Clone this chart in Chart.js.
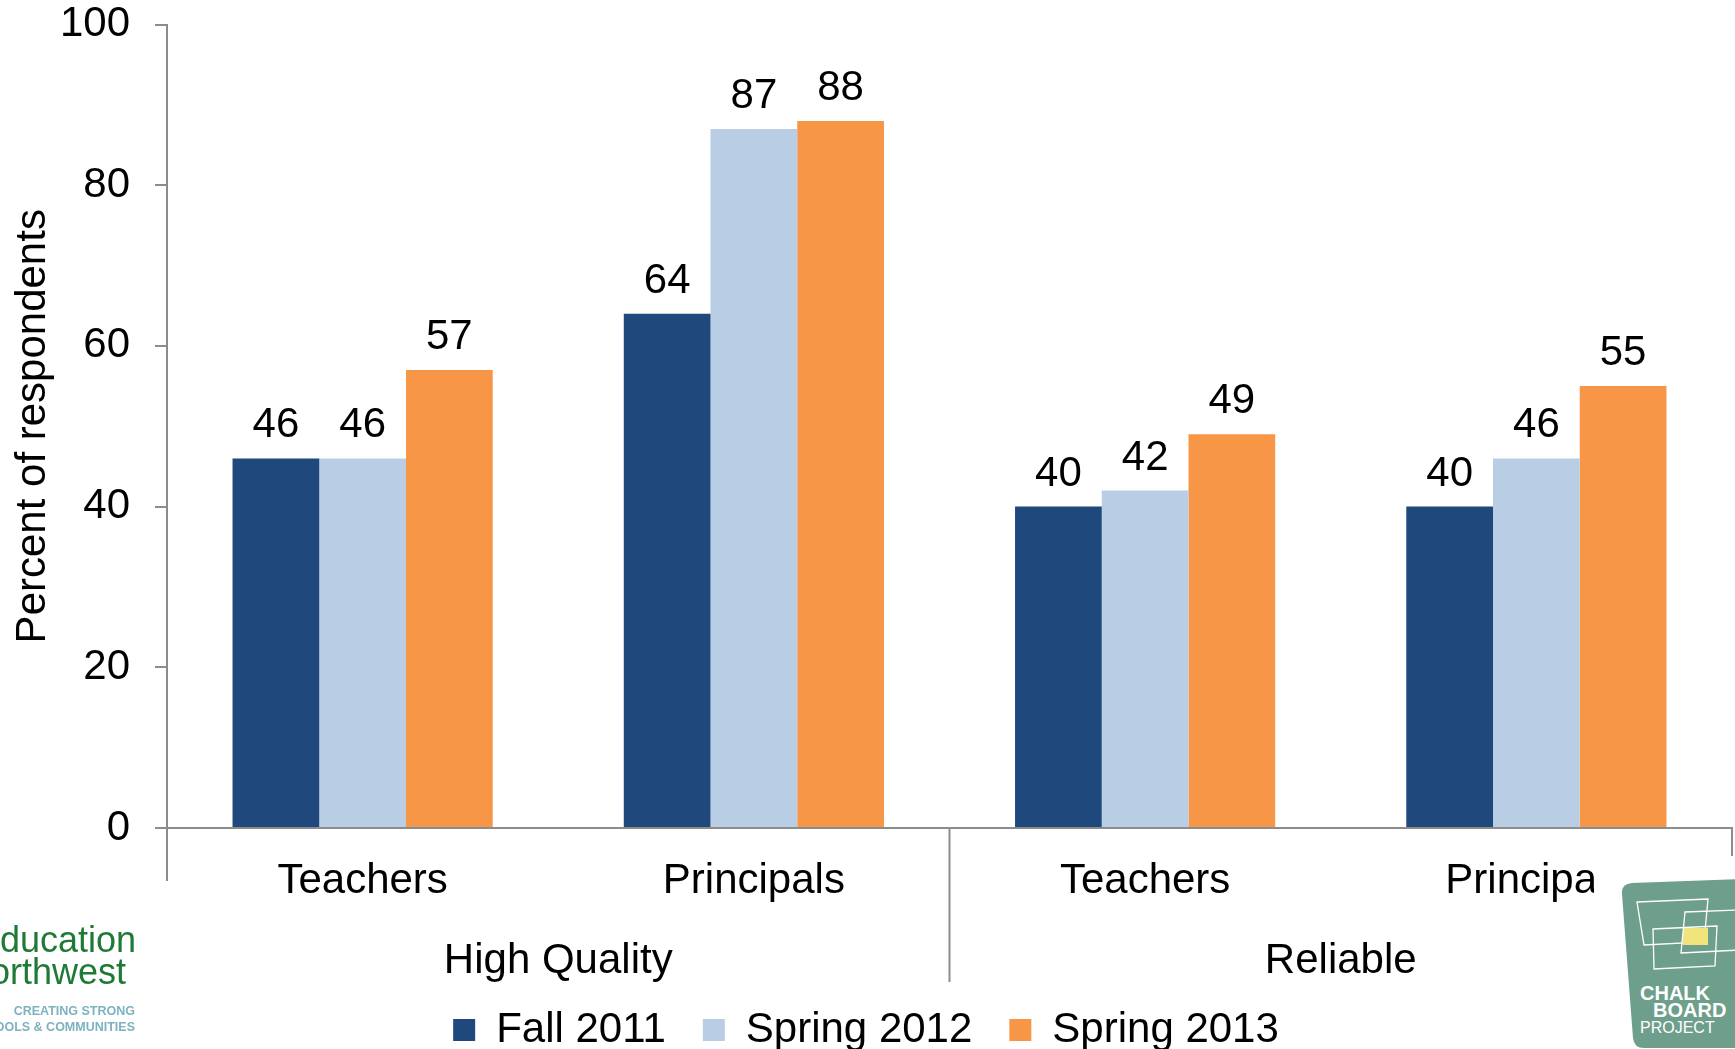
<!DOCTYPE html>
<html lang="en">
<head>
  <meta charset="UTF-8">
  <title>Percent of respondents</title>
  <script src="https://cdn.jsdelivr.net/npm/chart.js"></script>
  <style>
    html, body { margin: 0; padding: 0; background: #fff; }
    #wrap { position: relative; width: 1735px; height: 1049px; overflow: hidden; }
    #chart { position: absolute; left: 0; top: 0; }
    .logo-en { position: absolute; left: 0; top: 900px; width: 170px; height: 149px; overflow: hidden; font-family: "Liberation Sans", Arial, sans-serif; }
    .logo-en div { position: absolute; white-space: nowrap; text-align: right; }
    .logo-en .big { color: #1f7a36; font-size: 36px; line-height: 36px; }
    .logo-en .tag { color: #7db2c1; font-size: 12.5px; font-weight: bold; line-height: 14px; }
    .logo-cb { position: absolute; left: 1594px; top: 857px; width: 141px; height: 192px; background: #fff; }
  </style>
</head>
<body>
<div id="wrap">
  <canvas id="chart" width="1735" height="1049"></canvas>

  <div class="logo-en">
    <div class="big" style="right:34px; top:22px;">education</div>
    <div class="big" style="right:44px; top:54px;">northwest</div>
    <div class="tag" style="right:35px; top:104px;">CREATING STRONG</div>
    <div class="tag" style="right:35px; top:120px;">SCHOOLS &amp; COMMUNITIES</div>
  </div>

  <div class="logo-cb">
    <svg width="141" height="192" viewBox="1594 857 141 192">
      <path d="M1632,883 L1740,879 Q1744,879 1744,890 L1744,1040 Q1744,1048 1736,1048 L1644,1048 Q1634,1048 1633,1038 L1622,894 Q1621,884 1632,883 Z" fill="#6e9f8c"/>
      <polygon points="1637,902 1708,899 1704,942 1644,945" fill="none" stroke="#fff" stroke-width="1.3"/>
      <rect x="1683" y="928" width="25" height="17" fill="#f2e47c"/>
      <polygon points="1685,912 1740,910 1740,950 1681,953" fill="none" stroke="#fff" stroke-width="1.3"/>
      <polygon points="1653,929 1717,926 1715,966 1654,969" fill="none" stroke="#fff" stroke-width="1.3"/>
      <text x="1640" y="1000" fill="#fff" font-family="Liberation Sans, Arial, sans-serif" font-weight="bold" font-size="20">CHALK</text>
      <text x="1653" y="1017" fill="#fff" font-family="Liberation Sans, Arial, sans-serif" font-weight="bold" font-size="20">BOARD</text>
      <text x="1640" y="1033" fill="#fff" font-family="Liberation Sans, Arial, sans-serif" font-size="16">PROJECT</text>
    </svg>
  </div>
</div>

<script>
  // survey results, percent of respondents
  const categories = ['Teachers', 'Principals', 'Teachers', 'Principals'];
  const groups = ['High Quality', 'Reliable'];
  const fall2011 = [46, 64, 40, 40];
  const spring2012 = [46, 87, 42, 46];
  const spring2013 = [57, 88, 49, 55];
  const yTicks = [0, 20, 40, 60, 80, 100];

  const FONT = '"Liberation Sans", Arial, sans-serif';
  const FONT_SIZE = 42;
  const AXIS_GREY = '#8c8c8c';

  // numbers above each bar
  const valueLabels = {
    id: 'valueLabels',
    afterDatasetsDraw(chart) {
      const ctx = chart.ctx;
      ctx.save();
      ctx.font = FONT_SIZE + 'px ' + FONT;
      ctx.fillStyle = '#000';
      ctx.textAlign = 'center';
      ctx.textBaseline = 'alphabetic';
      chart.data.datasets.forEach((ds, i) => {
        chart.getDatasetMeta(i).data.forEach((bar, j) => {
          ctx.fillText(ds.data[j], bar.x, bar.y - 21);
        });
      });
      ctx.restore();
    }
  };

  // second row of the category axis: group names and the dividers between groups
  const groupAxis = {
    id: 'groupAxis',
    afterDraw(chart) {
      const x = chart.scales.x;
      const ctx = chart.ctx;
      const mid = (x.getPixelForValue(1) + x.getPixelForValue(2)) / 2;
      const lines = [[x.left, 53], [mid, 154], [x.right, 28]];
      ctx.save();
      ctx.strokeStyle = AXIS_GREY;
      ctx.lineWidth = 2;
      lines.forEach(([px, len]) => {
        ctx.beginPath();
        ctx.moveTo(px, x.top);
        ctx.lineTo(px, x.top + len);
        ctx.stroke();
      });
      ctx.font = FONT_SIZE + 'px ' + FONT;
      ctx.fillStyle = '#000';
      ctx.textAlign = 'center';
      ctx.textBaseline = 'middle';
      groups.forEach((g, i) => {
        ctx.fillText(g, x.getPixelForValue(i * 2 + 0.5), x.top + 133);
      });
      ctx.restore();
    }
  };

  new Chart(document.getElementById('chart').getContext('2d'), {
    type: 'bar',
    data: {
      labels: categories,
      datasets: [
        { label: 'Fall 2011', data: fall2011, backgroundColor: '#1f497d' },
        { label: 'Spring 2012', data: spring2012, backgroundColor: '#b9cde5' },
        { label: 'Spring 2013', data: spring2013, backgroundColor: '#f79646' }
      ]
    },
    options: {
      responsive: false,
      animation: false,
      categoryPercentage: 0.665,
      barPercentage: 1,
      layout: { padding: { left: 0, right: 3, top: 0, bottom: -12 } },
      plugins: {
        legend: {
          position: 'bottom',
          labels: {
            boxWidth: 22,
            boxHeight: 22,
            padding: 37,
            color: '#000',
            font: { family: FONT, size: FONT_SIZE }
          }
        },
        tooltip: { enabled: false }
      },
      scales: {
        y: {
          min: 0,
          max: 100,
          afterBuildTicks: scale => { scale.ticks = yTicks.map(v => ({ value: v })); },
          afterFit: scale => {
            scale.width = 167;
            scale.paddingTop = 24.5;
            scale.paddingBottom = 24.5;
          },
          grid: { drawOnChartArea: false, drawTicks: true, tickLength: 12, color: AXIS_GREY, lineWidth: 2 },
          border: { color: AXIS_GREY, width: 2 },
          ticks: { color: '#000', padding: 25, font: { family: FONT, size: FONT_SIZE } },
          title: {
            display: true,
            text: 'Percent of respondents',
            color: '#000',
            padding: { top: 8, bottom: 4 },
            font: { family: FONT, size: FONT_SIZE }
          }
        },
        x: {
          afterFit: scale => { scale.height = 144; },
          grid: { display: false, drawTicks: false },
          border: { color: AXIS_GREY, width: 2 },
          ticks: { color: '#000', padding: 28, font: { family: FONT, size: FONT_SIZE } }
        }
      }
    },
    plugins: [valueLabels, groupAxis]
  });
</script>
</body>
</html>
